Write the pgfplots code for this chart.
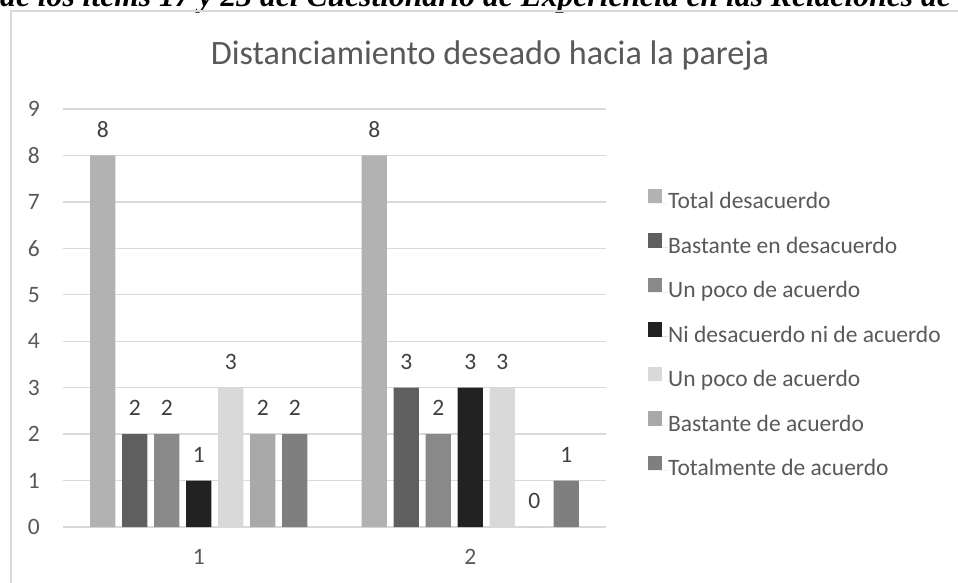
\documentclass[border=0pt]{standalone}
\usepackage{fontspec}
\setmainfont{Carlito}
\newfontfamily\capfont{Liberation Serif}
\usepackage{pgfplots}
\pgfplotsset{compat=1.18}
\definecolor{gridc}{HTML}{D9D9D9}
\definecolor{txt}{HTML}{595959}
\definecolor{lbl}{HTML}{404040}
\definecolor{cA}{HTML}{B2B2B2}
\definecolor{cB}{HTML}{5F5F5F}
\definecolor{cC}{HTML}{898989}
\definecolor{cD}{HTML}{222222}
\definecolor{cE}{HTML}{D9D9D9}
\definecolor{cF}{HTML}{A9A9A9}
\definecolor{cG}{HTML}{7F7F7F}
\begin{document}
\begin{tikzpicture}[x=1pt,y=1pt]
\useasboundingbox (0,0) rectangle (958,582);
\clip (0,0) rectangle (958,582);
\fill[white] (0,0) rectangle (958,582);
\node[anchor=base east, inner sep=0pt, font=\capfont\bfseries\itshape\fontsize{31.6}{37}\selectfont] at (951,575.5) {de los ítems 17 y 23 del Cuestionario de Experiencia en las Relaciones de};
\draw[gridc, line width=1.5pt] (11,-10) -- (11,571) -- (980,571);
\node[anchor=base, inner sep=0pt, text=txt, font=\fontsize{34.2}{39}\selectfont] at (490,517) {Distanciamiento deseado hacia la pareja};
\begin{axis}[
  at={(63pt,55pt)}, anchor=south west,
  scale only axis, width=543pt, height=418pt,
  xmin=0.5, xmax=2.5, ymin=0, ymax=9,
  xtick={1,2}, ytick={0,1,...,9},
  /pgf/number format/assume math mode=true,
  axis line style={draw=none},
  major tick length=0pt,
  xmajorgrids=false, ymajorgrids=true,
  major grid style={draw=gridc, line width=1.4pt},
  tick label style={text=txt, font=\fontsize{23.5}{28}\selectfont, inner sep=0pt},
  yticklabel style={anchor=east, xshift=-23pt},
  xticklabel style={anchor=north, yshift=-22pt},
  ybar=6.7pt, bar width=25.3pt,
  nodes near coords,
  every node near coord/.append style={anchor=south, inner sep=0pt, yshift=18pt, text=lbl, font=\fontsize{23.5}{28}\selectfont},
  legend cell align=left,
  legend style={at={(1.0773,0.810)}, anchor=north west, draw=none, fill=none, inner sep=0pt,
    row sep=18.2pt, column sep=0pt,
    nodes={inner sep=0pt, text height=17pt, text depth=6pt, text=txt, font=\fontsize{23.5}{28}\selectfont}},
  legend image code/.code={\fill[#1] (0pt,0.3pt) rectangle (14pt,14.8pt); \path (0pt,0pt) -- (20pt,0pt);},
]
\addplot[fill=cA, draw=none] coordinates {(1,8) (2,8)};
\addplot[fill=cB, draw=none] coordinates {(1,2) (2,3)};
\addplot[fill=cC, draw=none] coordinates {(1,2) (2,2)};
\addplot[fill=cD, draw=none] coordinates {(1,1) (2,3)};
\addplot[fill=cE, draw=none] coordinates {(1,3) (2,3)};
\addplot[fill=cF, draw=none] coordinates {(1,2) (2,0)};
\addplot[fill=cG, draw=none] coordinates {(1,2) (2,1)};
\legend{Total desacuerdo, Bastante en desacuerdo, Un poco de acuerdo, Ni desacuerdo ni de acuerdo, Un poco de acuerdo, Bastante de acuerdo, Totalmente de acuerdo}
\end{axis}
\end{tikzpicture}
\end{document}
